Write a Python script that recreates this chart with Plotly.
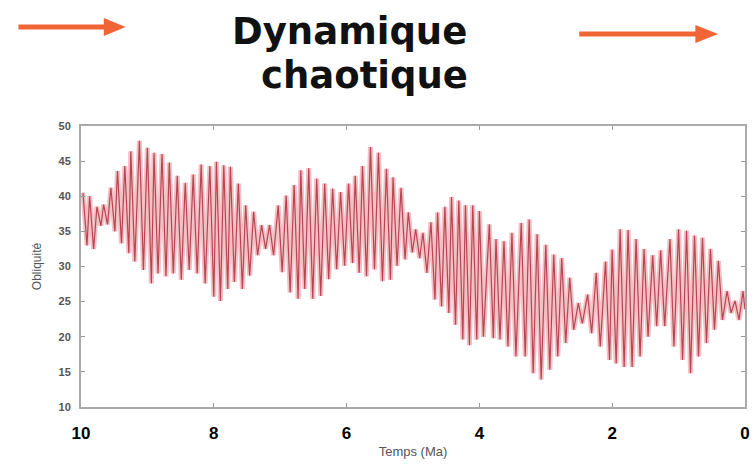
import plotly.graph_objects as go

# --- data (extrema of the obliquity oscillation) ---
peak_time = [9.97, 9.87, 9.76, 9.66, 9.55, 9.45, 9.34, 9.25, 9.12, 9.00,
             8.90, 8.78, 8.67, 8.55, 8.43, 8.31, 8.19, 8.06, 7.96, 7.85,
             7.75, 7.63, 7.52, 7.40, 7.28, 7.16, 7.03, 6.91, 6.79, 6.69,
             6.57, 6.45, 6.33, 6.21, 6.09, 5.97, 5.87, 5.76, 5.64, 5.52,
             5.40, 5.30, 5.18, 5.07, 4.96, 4.85, 4.73, 4.63, 4.52, 4.42,
             4.31, 4.21, 4.10, 4.00, 3.85, 3.75, 3.63, 3.51, 3.37, 3.25,
             3.13, 3.00, 2.88, 2.76, 2.64, 2.51, 2.37, 2.24, 2.10, 2.00,
             1.88, 1.76, 1.64, 1.52, 1.39, 1.27, 1.13, 1.00, 0.88, 0.76,
             0.64, 0.52, 0.40, 0.27, 0.15, 0.03]
peak_obl = [40.5, 40.0, 38.5, 38.8, 41.2, 43.6, 44.3, 46.4, 47.9, 46.9,
            46.2, 46.0, 44.8, 42.9, 41.9, 43.1, 44.5, 44.3, 44.9, 44.4,
            44.2, 41.8, 38.7, 37.8, 35.9, 35.9, 38.7, 40.1, 41.6, 43.7,
            44.0, 42.5, 41.8, 41.1, 40.6, 41.8, 42.9, 44.3, 47.0, 46.2,
            43.9, 42.7, 41.2, 37.7, 35.3, 34.8, 36.3, 37.7, 38.5, 39.9,
            39.4, 38.7, 38.7, 37.9, 36.0, 33.9, 33.6, 34.8, 36.2, 36.7,
            34.6, 33.1, 31.7, 31.2, 28.4, 24.8, 26.0, 29.1, 30.7, 32.4,
            35.3, 35.2, 33.9, 32.5, 31.6, 32.3, 33.9, 35.3, 35.1, 34.4,
            34.1, 32.5, 30.8, 26.5, 25.1, 26.5]
trough_time = [9.91, 9.81, 9.70, 9.60, 9.49, 9.39, 9.28, 9.19, 9.06, 8.94,
               8.84, 8.72, 8.61, 8.49, 8.37, 8.25, 8.13, 8.00, 7.90, 7.79,
               7.69, 7.57, 7.46, 7.34, 7.22, 7.10, 6.97, 6.85, 6.73, 6.63,
               6.51, 6.39, 6.27, 6.15, 6.03, 5.91, 5.81, 5.70, 5.58, 5.46,
               5.34, 5.24, 5.12, 5.01, 4.90, 4.79, 4.67, 4.57, 4.46, 4.36,
               4.25, 4.15, 4.04, 3.94, 3.79, 3.69, 3.57, 3.45, 3.31, 3.19,
               3.07, 2.94, 2.82, 2.70, 2.58, 2.45, 2.31, 2.18, 2.04, 1.94,
               1.82, 1.70, 1.58, 1.46, 1.33, 1.21, 1.07, 0.94, 0.82, 0.70,
               0.58, 0.46, 0.34, 0.21, 0.09, 0.00]
trough_obl = [33.0, 32.5, 35.8, 36.0, 35.0, 33.3, 31.9, 30.7, 29.5, 27.6,
              29.0, 28.6, 29.0, 28.1, 29.5, 29.0, 27.6, 25.7, 25.1, 26.8,
              27.8, 26.8, 28.7, 31.6, 32.5, 31.6, 29.2, 26.3, 25.4, 26.8,
              25.4, 25.8, 28.2, 29.6, 30.1, 30.5, 29.1, 28.6, 29.6, 27.9,
              28.1, 30.1, 31.0, 32.0, 31.2, 29.1, 25.3, 24.3, 23.4, 21.7,
              19.6, 18.8, 19.6, 20.0, 19.8, 19.6, 18.6, 17.2, 17.2, 14.8,
              13.9, 15.3, 17.2, 19.1, 21.0, 21.9, 20.5, 18.6, 16.7, 16.2,
              15.7, 15.7, 17.2, 20.0, 21.5, 21.5, 18.6, 16.7, 14.8, 17.2,
              19.1, 21.0, 22.4, 23.4, 22.4, 23.9]

x_ticks = [10, 8, 6, 4, 2, 0]
y_ticks = [10, 15, 20, 25, 30, 35, 40, 45, 50]

title_line1 = "Dynamique"
title_line2 = "chaotique"
x_title = "Temps (Ma)"
y_title = "Obliquité"

# merge extrema in time order (oldest first)
pts = sorted(list(zip(peak_time, peak_obl)) + list(zip(trough_time, trough_obl)),
             key=lambda p: -p[0])
t_all = [p[0] for p in pts]
o_all = [p[1] for p in pts]

W, H = 753, 468
ML, MR, MT, MB = 81, 3, 126, 61
PW = W - ML - MR
PH = H - MT - MB


def px(x):
    return (x - ML) / PW


def py(y):
    return (H - MB - y) / PH


fig = go.Figure()
fig.add_trace(go.Scatter(x=t_all, y=o_all, mode="lines",
                         line=dict(color="rgba(236,165,172,0.7)", width=5),
                         hoverinfo="skip", showlegend=False))
fig.add_trace(go.Scatter(x=t_all, y=o_all, mode="lines",
                         line=dict(color="#b94552", width=1.2),
                         showlegend=False))

arrow_col = "#f06435"
shapes = []
# left arrow
shapes.append(dict(type="line", xref="paper", yref="paper",
                   x0=px(18), x1=px(108), y0=py(27), y1=py(27),
                   line=dict(color=arrow_col, width=5)))
shapes.append(dict(type="path", xref="paper", yref="paper",
                   path=f"M {px(104)} {py(18)} L {px(126)} {py(27)} L {px(104)} {py(36)} Z",
                   fillcolor=arrow_col, line=dict(width=0)))
# right arrow
shapes.append(dict(type="line", xref="paper", yref="paper",
                   x0=px(583), x1=px(704), y0=py(34), y1=py(34),
                   line=dict(color=arrow_col, width=5)))
shapes.append(dict(type="path", xref="paper", yref="paper",
                   path=f"M {px(700)} {py(25)} L {px(723)} {py(34)} L {px(700)} {py(43)} Z",
                   fillcolor=arrow_col, line=dict(width=0)))

title_font = dict(family="DejaVu Sans", size=37, color="#111", weight="bold")
fig.update_layout(
    width=W, height=H,
    margin=dict(l=ML, r=MR, t=MT, b=MB),
    paper_bgcolor="white", plot_bgcolor="white",
    shapes=shapes,
    annotations=[
        dict(text=title_line1, xref="paper", yref="paper",
             x=px(352), y=py(31), xanchor="center", yanchor="middle",
             showarrow=False, font=title_font),
        dict(text=title_line2, xref="paper", yref="paper",
             x=px(367), y=py(75), xanchor="center", yanchor="middle",
             showarrow=False, font=title_font),
    ],
    xaxis=dict(range=[10, 0], tickvals=x_ticks, ticktext=[str(v) for v in x_ticks],
               showgrid=False, zeroline=False, showline=True, linecolor="#aaaaaa",
               linewidth=2, mirror="ticks", ticks="inside", ticklen=4,
               tickcolor="#999999",
               tickfont=dict(family="Liberation Sans", size=17, color="#000",
                             weight="bold"),
               ticklabelstandoff=10,
               title=dict(text=x_title, standoff=4,
                          font=dict(family="Liberation Sans", size=13, color="#555"))),
    yaxis=dict(range=[10, 50], tickvals=y_ticks,
               showgrid=False, zeroline=False, showline=True, linecolor="#aaaaaa",
               linewidth=2, mirror="ticks", ticks="inside", ticklen=4,
               tickcolor="#999999",
               tickfont=dict(family="Liberation Sans", size=11, color="#555",
                             weight="bold"),
               ticklabelstandoff=6,
               title=dict(text=y_title, standoff=14,
                          font=dict(family="Liberation Sans", size=12, color="#555"))),
)

fig.write_html("out.html")
